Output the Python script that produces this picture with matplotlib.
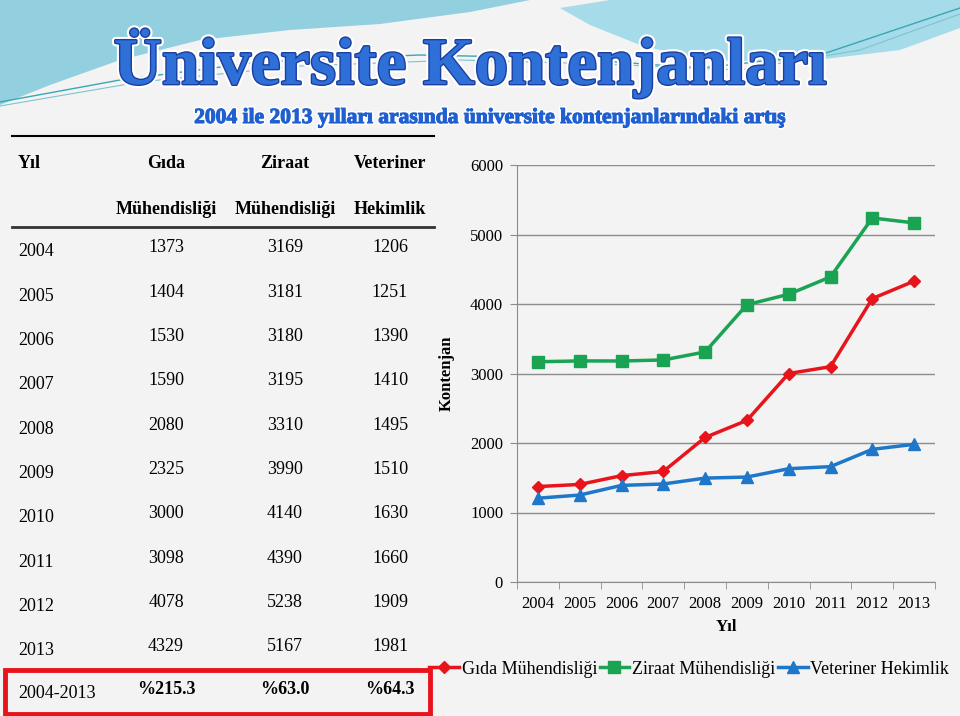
import matplotlib
matplotlib.use("Agg")
import matplotlib.pyplot as plt
import matplotlib.patheffects as pe
from matplotlib.patches import Polygon, Rectangle
from matplotlib.lines import Line2D

plt.rcParams['font.family'] = ['Liberation Serif', 'DejaVu Serif']

# Veriler
years = [2004, 2005, 2006, 2007, 2008, 2009, 2010, 2011, 2012, 2013]
gida = [1373, 1404, 1530, 1590, 2080, 2325, 3000, 3098, 4078, 4329]
ziraat = [3169, 3181, 3180, 3195, 3310, 3990, 4140, 4390, 5238, 5167]
veteriner = [1206, 1251, 1390, 1410, 1495, 1510, 1630, 1660, 1909, 1981]
artis = ["%215.3", "%63.0", "%64.3"]

header1 = ["Yıl", "Gıda", "Ziraat", "Veteriner"]
header2 = ["", "Mühendisliği", "Mühendisliği", "Hekimlik"]
series_names = ["Gıda Mühendisliği", "Ziraat Mühendisliği", "Veteriner Hekimlik"]

red, green, blue = '#e8141c', '#1aa352', '#1f77c9'

fig = plt.figure(figsize=(9.6, 7.16), dpi=100)
fig.patch.set_facecolor('#f3f3f3')

# Arka plan (piksel koordinatlari)
bg = fig.add_axes([0, 0, 1, 1], zorder=-1)
bg.set_xlim(0, 960)
bg.set_ylim(716, 0)
bg.axis('off')

# ust kisimdaki mavi dalgalar
bg.add_patch(Polygon([(0, 0), (530, 0), (470, 12), (380, 24), (290, 30),
                      (200, 40), (120, 60), (50, 85), (0, 105)],
                     closed=True, color='#92d0e0', lw=0))
bg.add_patch(Polygon([(610, 0), (960, 0), (960, 28), (900, 50), (800, 62),
                      (700, 60), (640, 45), (590, 25), (560, 8)],
                     closed=True, color='#a6dbe9', lw=0))
bg.plot([0, 120, 260, 420, 560, 700, 820, 960], [102, 80, 62, 55, 58, 68, 55, 8],
        color='#3aa6b8', lw=1.0)
bg.plot([0, 140, 300, 460, 600, 740, 860, 960], [106, 82, 66, 60, 64, 70, 50, 14],
        color='#7fc3cf', lw=0.8)

# Baslik
bg.text(470, 84, "Üniversite Kontenjanları", fontsize=48, fontweight='bold',
        ha='center', va='baseline', color='#2f6fd8',
        path_effects=[pe.Stroke(linewidth=5, foreground='white'),
                      pe.Stroke(linewidth=2, foreground='#1b3f9e'),
                      pe.Normal()])
bg.text(490, 118, "2004 ile 2013 yılları arasında üniversite kontenjanlarındaki artış",
        fontsize=15.5, fontweight='bold', ha='center', va='center', color='#1f5fd0',
        path_effects=[pe.Stroke(linewidth=3, foreground='white'),
                      pe.Stroke(linewidth=0.8, foreground='#1f5fd0'), pe.Normal()])

# Tablo
bg.plot([12, 434], [136, 136], color='black', lw=1.5)
bg.plot([12, 434], [227, 227], color='#333333', lw=2)
col_x = [18, 166, 285, 390]
for i, h in enumerate(header1):
    bg.text(col_x[i], 164, h, fontsize=13, fontweight='bold',
            ha='left' if i == 0 else 'center', va='center')
for i, h in enumerate(header2):
    if h:
        bg.text(col_x[i], 209, h, fontsize=13, fontweight='bold', ha='center', va='center')

for r, yr in enumerate(years):
    y = 252 + 44.3 * r
    bg.text(col_x[0], y, str(yr), fontsize=13, ha='left', va='center')
    for c, vals in enumerate([gida, ziraat, veteriner]):
        bg.text(col_x[c + 1], y - 4, str(vals[r]), fontsize=13, ha='center', va='center')

bg.text(col_x[0], 693, "2004-2013", fontsize=13, ha='left', va='center')
for c, s in enumerate(artis):
    bg.text(col_x[c + 1], 690, s, fontsize=13, fontweight='bold', ha='center', va='center')
bg.add_patch(Rectangle((5, 670), 425, 44, fill=False, edgecolor=red, lw=3.5))

# Grafik
ax = fig.add_axes([517 / 960, 1 - 582 / 716, 418 / 960, 417 / 716])
ax.set_facecolor('none')
x = list(range(len(years)))
ax.plot(x, gida, color=red, lw=2.5, marker='D', ms=6.5, label=series_names[0], zorder=3)
ax.plot(x, ziraat, color=green, lw=2.5, marker='s', ms=8, label=series_names[1], zorder=3)
ax.plot(x, veteriner, color=blue, lw=2.5, marker='^', ms=9, label=series_names[2], zorder=3)

ax.set_xlim(-0.5, len(years) - 0.5)
ax.set_ylim(0, 6000)
ax.set_yticks(range(0, 6001, 1000))
ax.yaxis.grid(True, color='#8c8c8c', lw=1)
ax.set_axisbelow(True)
ax.set_xticks(x)
ax.set_xticklabels([str(y) for y in years], fontsize=12)
ax.set_xticks([i - 0.5 for i in range(len(years) + 1)], minor=True)
ax.tick_params(axis='x', which='major', length=0, pad=10)
ax.tick_params(axis='x', which='minor', length=5, color='#8c8c8c', direction='out')
ax.tick_params(axis='y', length=5, color='#8c8c8c', labelsize=12, pad=5)
for s in ['top', 'right']:
    ax.spines[s].set_visible(False)
for s in ['left', 'bottom']:
    ax.spines[s].set_color('#8c8c8c')

ax.set_xlabel("Yıl", fontsize=12, fontweight='bold', labelpad=5)
ax.set_ylabel("Kontenjan", fontsize=12, fontweight='bold')
ax.yaxis.set_label_coords(-0.148, 0.5)

handles = [Line2D([], [], color=red, lw=2.5, marker='D', ms=6.5),
           Line2D([], [], color=green, lw=2.5, marker='s', ms=8),
           Line2D([], [], color=blue, lw=2.5, marker='^', ms=9)]
fig.legend(handles, series_names, loc='center left', bbox_to_anchor=(429 / 960, 1 - 669 / 716),
           ncol=3, frameon=False, fontsize=13, handlelength=1.65, handletextpad=0.15,
           columnspacing=0.15, borderpad=0, borderaxespad=0)

fig.savefig("out.png", dpi=100, facecolor=fig.get_facecolor())
